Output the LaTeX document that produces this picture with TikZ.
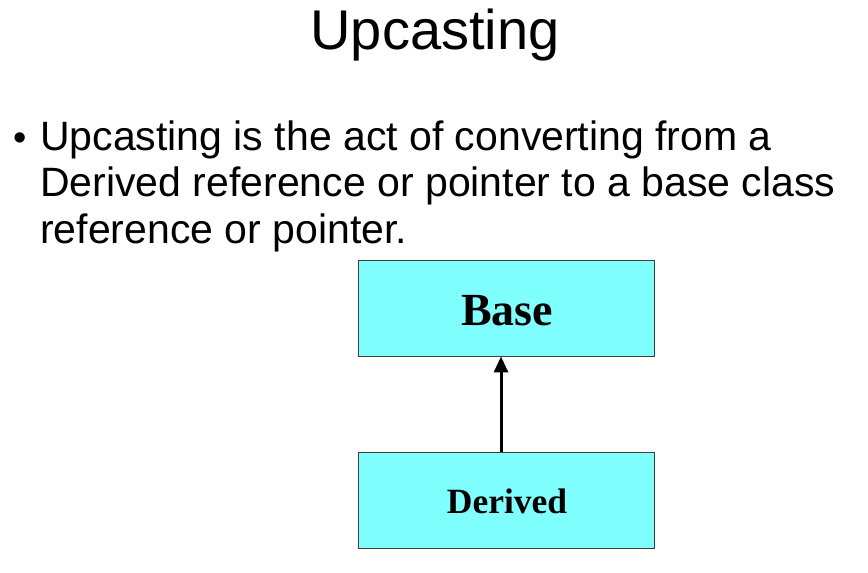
\documentclass[tikz,border=0pt]{standalone}
\usepackage{fontspec}
\setmainfont{Liberation Sans}
\newfontfamily\boxfont{Liberation Serif}
\usetikzlibrary{arrows.meta}
\definecolor{boxcyan}{HTML}{80FFFF}
\definecolor{boxedge}{HTML}{404040}
\tikzset{
  titletext/.style={font=\fontsize{56}{62}\selectfont, inner sep=0pt},
  bodytext/.style={font=\fontsize{41}{46}\selectfont, inner sep=0pt, anchor=base west},
  classbox/.style={draw=boxedge, line width=0.9pt, fill=boxcyan, minimum width=296pt, minimum height=96pt, inner sep=0pt},
  inherit/.style={line width=3pt, -{Triangle[length=16pt, width=14pt]}}
}
\begin{document}
\begin{tikzpicture}[x=1pt, y=-1pt]
  \useasboundingbox[fill=white] (0,0) rectangle (868,573);
  % heading
  \node[titletext, anchor=base] (title) at (435,49) {Upcasting};
  % bulleted sentence
  \node[bodytext, font=\fontsize{38}{40}\selectfont] (dot) at (13,150) {•};
  \node[bodytext] (l1) at (40,150) {Upcasting is the act of converting from a};
  \node[bodytext] (l2) at (40,196) {Derived reference or pointer to a base class};
  \node[bodytext] (l3) at (40,243) {reference or pointer.};
  % class diagram
  \node[classbox] (base) at (506,308) {};
  \node[font=\boxfont\bfseries\fontsize{46}{50}\selectfont, inner sep=0pt, anchor=base] (basetxt) at (507,325) {Base};
  \node[classbox] (derived) at (506,500) {};
  \node[font=\boxfont\bfseries\fontsize{35.5}{40}\selectfont, inner sep=0pt, anchor=base] (dertxt) at (507,513) {Derived};
  \draw[inherit] (derived.north -| 501,0) -- (base.south -| 501,0);
\end{tikzpicture}
\end{document}
